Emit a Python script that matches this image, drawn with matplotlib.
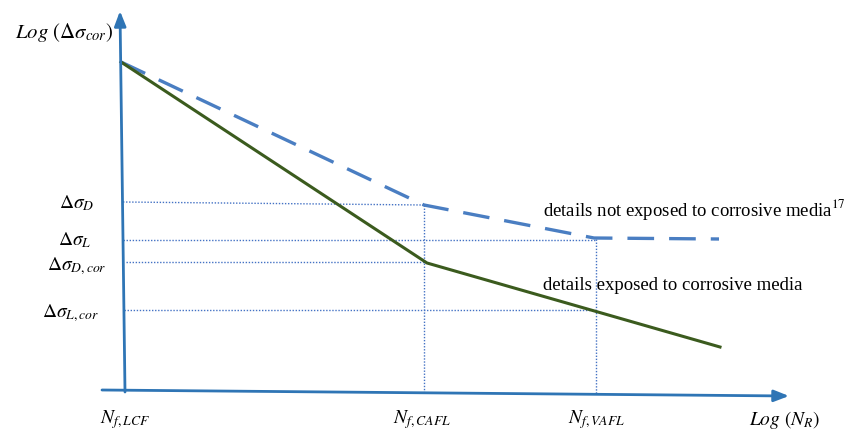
import matplotlib
matplotlib.use("Agg")
import matplotlib.pyplot as plt

plt.rcParams['mathtext.fontset'] = 'stix'

# Schematic coordinates (pixel-like units)
# Curves
logN_uncorr = [121, 424, 594, 719]
logS_uncorr = [62, 205, 238, 239]
logN_corr = [121, 427, 720]
logS_corr = [62, 263, 347]

# Reference levels (y) and their dotted guide extents
level_names = [r'$\Delta\sigma_D$', r'$\Delta\sigma_L$', r'$\Delta\sigma_{D,cor}$', r'$\Delta\sigma_{L,cor}$']
level_y_start = [202, 240, 262, 310]
level_y_end = [205, 240, 262, 310]
level_x_start = [123, 123, 126, 124]
level_x_end = [423, 596, 425, 596]
level_label_y = [203, 240, 266, 313]
level_label_x = [77, 75, 77, 71]

# Cycle-number markers
n_names = [r'$N_{f,LCF}$', r'$N_{f,CAFL}$', r'$N_{f,VAFL}$']
n_x = [125, 422, 597]
vline_x = [424, 596]
vline_top = [205, 239]
vline_bottom = [392, 394]

W, H = 856, 434
fig = plt.figure(figsize=(W / 100, H / 100), dpi=100)
ax = fig.add_axes([0, 0, 1, 1])
ax.set_xlim(0, W)
ax.set_ylim(H, 0)
ax.axis('off')

axis_col = '#2F75B5'
dot_col = '#4472C4'

# Axes arrows
ax.annotate('', xy=(120, 11), xytext=(125, 392),
            arrowprops=dict(arrowstyle='-|>,head_length=0.9,head_width=0.35',
                            color=axis_col, lw=2, shrinkA=0, shrinkB=0))
ax.annotate('', xy=(789, 396), xytext=(102, 390),
            arrowprops=dict(arrowstyle='-|>,head_length=0.9,head_width=0.35',
                            color=axis_col, lw=2, shrinkA=0, shrinkB=0))

# Dotted guides
for xs, xe, ys, ye in zip(level_x_start, level_x_end, level_y_start, level_y_end):
    ax.plot([xs, xe], [ys, ye], color=dot_col, lw=1, ls=(0, (1, 1.2)))
for x, yt, yb in zip(vline_x, vline_top, vline_bottom):
    ax.plot([x, x], [yt, yb], color=dot_col, lw=1, ls=(0, (1, 1.2)))

# Curves
ax.plot(logN_uncorr, logS_uncorr, color='#4A7EC2', lw=2.4, ls=(0, (8, 4.5)),
        solid_joinstyle='miter')
ax.plot(logN_corr, logS_corr, color='#3B5B1E', lw=2.2)

# Labels
ax.text(15, 33, r'$Log\ (\Delta\sigma_{cor})$', fontsize=15, ha='left', va='center')
for name, x, y in zip(level_names, level_label_x, level_label_y):
    ax.text(x, y, name, fontsize=14, ha='center', va='center')
for name, x in zip(n_names, n_x):
    ax.text(x, 420, name, fontsize=14, ha='center', va='center')
ax.text(785, 420, r'$Log\ (N_R)$', fontsize=14, ha='center', va='center')

ax.text(543, 210, r'details not exposed to corrosive media$^{17}$', fontsize=13.5,
        family='Liberation Serif', ha='left', va='center')
ax.text(543, 286, 'details exposed to corrosive media', fontsize=13.5,
        family='Liberation Serif', ha='left', va='center')

fig.savefig('out.png', dpi=100)
